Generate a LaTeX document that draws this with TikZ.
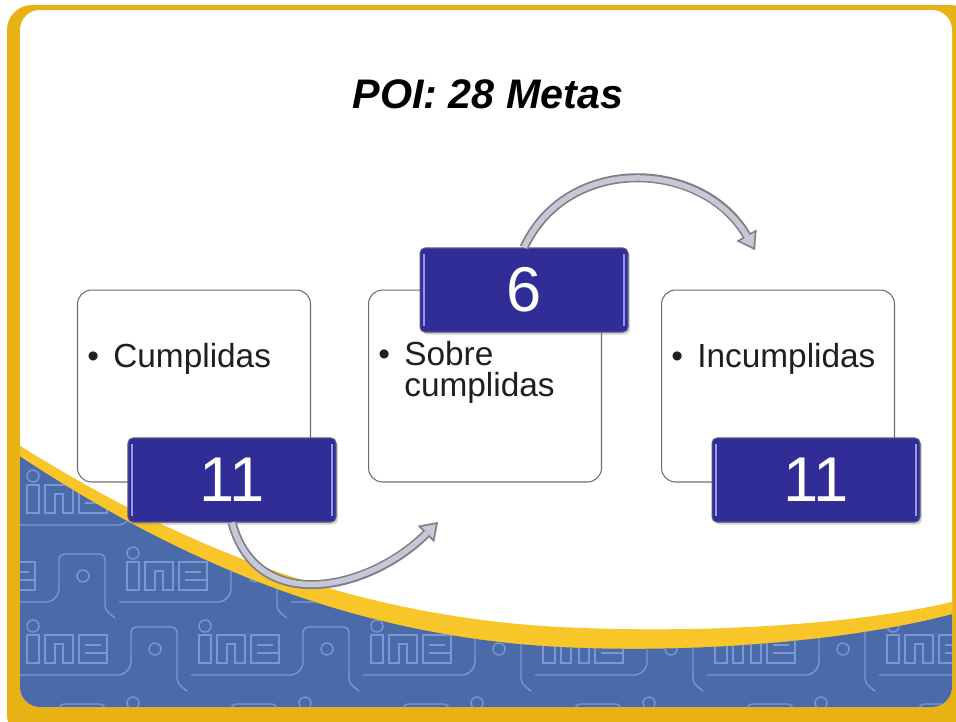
\documentclass[tikz,border=0pt]{standalone}
\usepackage{fontspec}
\setmainfont{Liberation Sans}
\usetikzlibrary{arrows.meta,shadows}

\definecolor{framegold}{RGB}{232,178,20}
\definecolor{bandgold}{RGB}{248,198,40}
\definecolor{slideblue}{RGB}{74,106,170}
\definecolor{patblue}{RGB}{122,152,208}
\definecolor{numblue}{RGB}{48,46,150}
\definecolor{numedge}{RGB}{85,85,125}
\definecolor{numshine}{RGB}{150,150,235}
\definecolor{arrowfill}{RGB}{200,200,212}
\definecolor{arrowedge}{RGB}{125,125,140}
\definecolor{boxedge}{RGB}{110,110,110}

\newcommand{\itembullet}{\makebox[0.52cm][l]{\textbullet}}

\begin{document}
\begin{tikzpicture}[x=0.02cm, y=0.02cm,
		itembox/.style={draw=boxedge, fill=white, line width=0.6pt, rounded corners=0.28cm, minimum width=4.66cm, minimum height=3.84cm},
		numbox/.style={draw=numedge, fill=numblue, line width=0.6pt, rounded corners=0.1cm, minimum width=4.16cm, minimum height=1.68cm, text=white, font=\fontsize{36}{36}\selectfont,
			drop shadow={shadow xshift=0.04cm, shadow yshift=-0.05cm, opacity=0.35},
			path picture={
				\draw[numshine, line width=1.2pt] ([xshift=0.08cm, yshift=-0.12cm]path picture bounding box.north west) -- ([xshift=0.08cm, yshift=0.12cm]path picture bounding box.south west);
				\draw[numshine, line width=1.2pt] ([xshift=-0.08cm, yshift=-0.12cm]path picture bounding box.north east) -- ([xshift=-0.08cm, yshift=0.12cm]path picture bounding box.south east);
			}},
		itemtext/.style={anchor=base west, inner sep=0pt, font=\fontsize{19}{19}\selectfont, text=black!88},
		arrowout/.style={draw=arrowedge, line width=0.18cm, -{Triangle[length=0.34cm, width=0.46cm, line width=0.1pt]}},
		arrowin/.style={draw=arrowfill, line width=0.11cm, shorten >=0.062cm, -{Triangle[length=0.243cm, width=0.33cm, line width=0.1pt]}},
		inemark/.pic={
			\draw[patblue, line width=0.8pt] (0,0) rectangle (12,28);
			\draw[patblue, line width=0.8pt] (6,37) circle[radius=6];
			\draw[patblue, line width=0.8pt] (18,0) -- (18,28) -- (46,28) -- (46,0) -- (36,0) -- (36,19) -- (28,19) -- (28,0) -- cycle;
			\draw[patblue, line width=0.8pt] (52,0) rectangle (80,28);
			\draw[patblue, line width=0.8pt] (58,10) -- (80,10) (58,18) -- (74,18);
			\draw[patblue, line width=0.8pt] (128,14) circle[radius=6];
			\draw[patblue, line width=0.8pt, rounded corners=0.1cm] (-8,-12) -- (96,-12) -- (104,-4) -- (104,36) -- (150,36) -- (150,-20) -- (160,-28);
		}]
	\useasboundingbox (0,0) rectangle (956,-721);

	% slide frame and wave
	\fill[framegold, rounded corners=0.5cm] (7,-5) rectangle (975,-740);
	\fill[white, rounded corners=0.4cm] (20,-10) rectangle (952,-707);
	\begin{scope}
		\clip[rounded corners=0.4cm] (20,-10) rectangle (952,-707);
		\fill[bandgold] (0,-433) .. controls (150,-530) and (330,-615) .. (560,-627) .. controls (700,-634) and (860,-625) .. (960,-600) -- (960,-760) -- (0,-760) -- cycle;
		\fill[slideblue] (0,-443) .. controls (150,-545) and (330,-635) .. (560,-647) .. controls (700,-654) and (860,-640) .. (960,-612) -- (960,-760) -- (0,-760) -- cycle;
		\clip (0,-443) .. controls (150,-545) and (330,-635) .. (560,-647) .. controls (700,-654) and (860,-640) .. (960,-612) -- (960,-760) -- (0,-760) -- cycle;
		\foreach \py/\px in {513/27, 590/-45, 663/27, 740/-45} {
			\foreach \k in {0,...,5} {
				\pic at (\px+172*\k, -\py) {inemark};
			}
		}
	\end{scope}

	\node[font=\fontsize{23.5}{23.5}\selectfont\bfseries\itshape, anchor=base] (title) at (488,-108) {POI: 28 Metas};

	\node[itembox] (box1) at (194,-386) {};
	\node[itembox] (box2) at (485,-386) {};
	\node[itembox] (box3) at (778,-386) {};

	\node[itemtext] (lab1) at ([xshift=0.2cm, yshift=-1.56cm]box1.north west) {\itembullet Cumplidas};
	\node[itemtext] (lab2) at ([xshift=0.2cm, yshift=-1.52cm]box2.north west) {\itembullet Sobre};
	\node[itemtext] (lab2b) at ([xshift=0.52cm, yshift=-0.62cm]lab2.base west) {cumplidas};
	\node[itemtext] (lab3) at ([xshift=0.2cm, yshift=-1.56cm]box3.north west) {\itembullet Incumplidas};

	\node[numbox] (num1) at (232,-480) {11};
	\node[numbox] (num2) at (524,-290) {6};
	\node[numbox] (num3) at (816,-480) {11};

	\coordinate (a1end) at (438,-522);
	\coordinate (a2end) at (755,-250);
	\draw[arrowout] (num1.south) to[out=-75, in=-135, looseness=1.2] (a1end);
	\draw[arrowin] (num1.south) to[out=-75, in=-135, looseness=1.2] (a1end);
	\draw[arrowout] (num2.north) to[out=65, in=120, looseness=1.15] (a2end);
	\draw[arrowin] (num2.north) to[out=65, in=120, looseness=1.15] (a2end);
\end{tikzpicture}
\end{document}
